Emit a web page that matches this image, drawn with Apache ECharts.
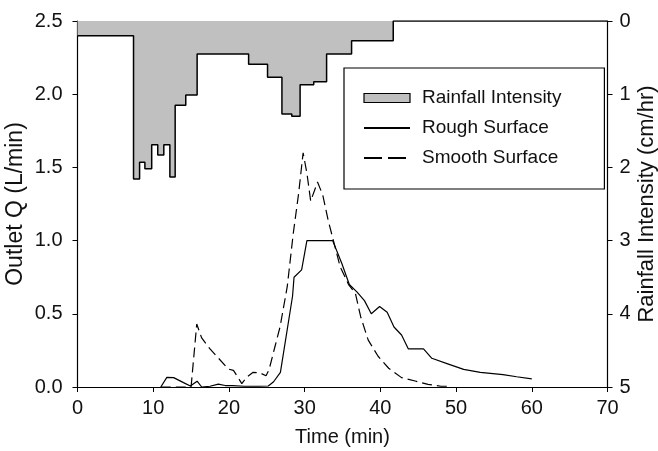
<!DOCTYPE html>
<html>
<head>
<meta charset="utf-8">
<script src="https://cdn.jsdelivr.net/npm/echarts@6/dist/echarts.min.js"></script>
<style>html,body{margin:0;padding:0;background:#fff}#c{width:658px;height:451px}</style>
</head>
<body>
<div id="c"></div>
<script>
// Rainfall hyetograph (start time of each step, min) and intensity (cm/hr)
const rainTime  = [0, 7.4, 8.2, 8.9, 9.8, 10.6, 11.4, 12.2, 12.9, 14.3, 15.8, 22.6, 25.1, 27.0, 28.3, 29.4, 31.2, 32.9, 36.2, 41.7, 70];
const rainValue = [0.2, 2.16, 1.93, 2.02, 1.69, 1.83, 1.69, 2.13, 1.15, 1.01, 0.45, 0.59, 0.77, 1.27, 1.30, 0.87, 0.83, 0.45, 0.27, 0, 0];

// Rough surface outflow (L/min)
const roughTime = [11.0, 11.8, 12.7, 14.0, 14.9, 15.8, 16.4, 17.5, 18.6, 19.5, 20.5, 22.0, 24.0, 25.2, 25.9, 26.8, 28.4, 28.6, 29.6, 30.3, 33.7, 34.9, 35.9, 36.9, 37.9, 38.8, 39.9, 40.9, 41.8, 42.8, 43.7, 45.7, 46.8, 48.8, 51.0, 53.2, 56.2, 58.0, 60.0];
const roughQ    = [0, 0.066, 0.064, 0.03, 0.007, 0.04, 0.0, 0.005, 0.02, 0.01, 0.01, 0.005, 0.005, 0.007, 0.036, 0.10, 0.62, 0.75, 0.80, 1.0, 1.0, 0.845, 0.70, 0.65, 0.59, 0.50, 0.55, 0.51, 0.41, 0.355, 0.26, 0.26, 0.196, 0.16, 0.12, 0.10, 0.085, 0.07, 0.055];

// Smooth surface outflow (L/min)
const smoothTime = [11.0, 15.0, 15.75, 16.4, 17.5, 18.6, 19.9, 20.6, 21.7, 22.35, 23.2, 24.1, 24.9, 25.3, 26.1, 26.75, 27.7, 28.5, 29.2, 29.8, 30.3, 30.8, 31.7, 32.4, 33.1, 33.8, 34.7, 35.8, 36.7, 37.4, 38.4, 39.7, 41.1, 42.8, 44.6, 46.3, 48.0, 49.0];
const smoothQ    = [0, 0, 0.43, 0.335, 0.26, 0.198, 0.123, 0.114, 0.023, 0.068, 0.10, 0.096, 0.077, 0.118, 0.28, 0.41, 0.685, 1.05, 1.32, 1.60, 1.46, 1.27, 1.40, 1.31, 1.14, 1.00, 0.82, 0.70, 0.64, 0.48, 0.32, 0.21, 0.128, 0.064, 0.041, 0.018, 0.005, 0.005];

const xTicks = [0, 10, 20, 30, 40, 50, 60, 70];
const qTicks = [0, 0.5, 1.0, 1.5, 2.0, 2.5];
const rainTicks = [0, 1, 2, 3, 4, 5];

const zip = (a, b) => a.map((v, i) => [v, b[i]]);
const FONT = 'Liberation Sans, Arial, sans-serif';
const TXT = '#111';

const chart = echarts.init(document.getElementById('c'), null, {renderer: 'canvas'});
chart.setOption({
  animation: false,
  backgroundColor: '#fff',
  textStyle: {fontFamily: FONT},
  grid: {left: 77.5, right: 50.5, top: 21, bottom: 64, containLabel: false, outerBoundsMode: 'none'},
  legend: {
    orient: 'vertical', left: 344, top: 68,
    padding: [20, 43, 21, 19],
    borderColor: '#000', borderWidth: 1.2,
    itemWidth: 46, itemHeight: 9, itemGap: 10,
    textStyle: {fontFamily: FONT, fontSize: 19, color: TXT, lineHeight: 20, padding: [0, 0, 0, 7]},
    data: [
      {name: 'Rainfall Intensity', icon: 'rect', itemStyle: {color: '#c0c0c0', borderColor: '#000', borderWidth: 1.2}},
      {name: 'Rough Surface', itemStyle: {opacity: 0}},
      {name: 'Smooth Surface', itemStyle: {opacity: 0}, lineStyle: {type: [18, 6]}}
    ]
  },
  xAxis: {
    type: 'value', min: xTicks[0], max: xTicks[xTicks.length - 1], interval: 10,
    name: 'Time (min)', nameLocation: 'middle', nameGap: 40, nameMoveOverlap: false,
    nameTextStyle: {fontSize: 20, color: TXT, fontFamily: FONT},
    axisLine: {onZero: false, lineStyle: {color: '#000', width: 1.2}},
    axisTick: {show: true, inside: false, length: 5, lineStyle: {color: '#000'}},
    axisLabel: {fontSize: 20, color: TXT, margin: 11, fontFamily: FONT},
    splitLine: {show: false}
  },
  yAxis: [
    {
      type: 'value', min: qTicks[0], max: qTicks[qTicks.length - 1], interval: 0.5,
      name: 'Outlet Q (L/min)', nameLocation: 'middle', nameGap: 50, nameRotate: 90, nameMoveOverlap: false,
      nameTextStyle: {fontSize: 23, color: TXT, fontFamily: FONT},
      axisLine: {show: true, onZero: false, lineStyle: {color: '#000', width: 1.2}},
      axisTick: {show: true, inside: false, length: 5, lineStyle: {color: '#000'}},
      axisLabel: {fontSize: 20, color: TXT, margin: 15, fontFamily: FONT, formatter: v => v.toFixed(1)},
      splitLine: {show: false}
    },
    {
      type: 'value', position: 'right', inverse: true,
      min: rainTicks[0], max: rainTicks[rainTicks.length - 1], interval: 1,
      name: 'Rainfall Intensity (cm/hr)', nameLocation: 'middle', nameGap: 28, nameRotate: 90, nameMoveOverlap: false,
      nameTextStyle: {fontSize: 22, color: TXT, fontFamily: FONT},
      axisLine: {show: true, onZero: false, lineStyle: {color: '#000', width: 1.2}},
      axisTick: {show: true, inside: false, length: 5, lineStyle: {color: '#000'}},
      axisLabel: {fontSize: 20, color: TXT, margin: 12, fontFamily: FONT},
      splitLine: {show: false}
    }
  ],
  series: [
    {
      name: 'Rainfall Intensity', type: 'line', yAxisIndex: 1, step: 'end',
      data: zip(rainTime, rainValue), symbol: 'none',
      itemStyle: {color: '#c0c0c0'},
      lineStyle: {color: '#000', width: 1.5},
      areaStyle: {color: '#c0c0c0', opacity: 1, origin: 'start'},
      z: 1
    },
    {
      name: 'Rough Surface', type: 'line', data: zip(roughTime, roughQ), symbol: 'none',
      itemStyle: {color: '#000'},
      lineStyle: {color: '#000', width: 1.2}, z: 3
    },
    {
      name: 'Smooth Surface', type: 'line', data: zip(smoothTime, smoothQ), symbol: 'none',
      itemStyle: {color: '#000'},
      lineStyle: {color: '#000', width: 1.2, type: [10, 5]}, z: 3
    }
  ]
});
</script>
</body>
</html>
